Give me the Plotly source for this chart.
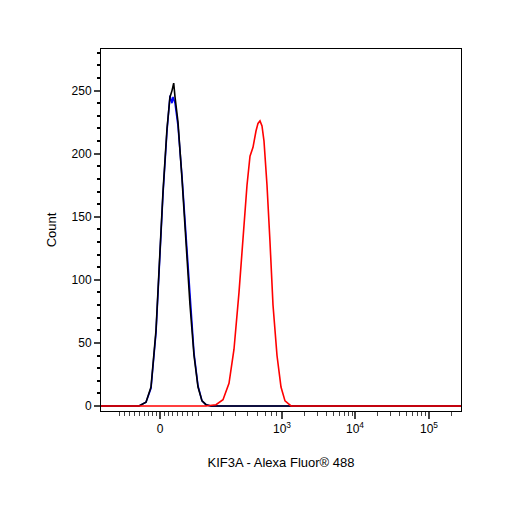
import plotly.graph_objects as go

# x in display (biexponential) units; tick positions below
black_x = [100, 138, 145, 150, 155, 158, 162, 166, 169, 171, 172.7, 174, 177, 181, 185, 189, 193, 197, 201, 205, 210, 460]
black_y = [0, 0, 3, 15, 60, 110, 170, 220, 245, 250, 256, 245, 225, 180, 130, 80, 40, 15, 4, 1, 0, 0]
blue_x = [100, 138, 145, 150, 155, 158, 162, 166, 169, 171, 172, 174, 177, 181, 185, 189, 193, 197, 201, 205, 210, 460]
blue_y = [0, 0, 3, 14, 58, 108, 168, 218, 246, 240, 245, 240, 222, 182, 133, 82, 42, 16, 4, 1, 0, 0]
red_x = [100, 205, 215, 222, 228, 233, 238, 242, 246, 249, 252, 255, 257, 259, 261, 263, 266, 269, 272, 276, 280, 284, 290, 460]
red_y = [0, 0, 1, 5, 18, 45, 90, 135, 175, 198, 205, 218, 224, 226, 222, 210, 175, 130, 80, 40, 15, 4, 0, 0]

major_vals = [159, 281, 354, 428]
major_text = ["0", "10<sup>3</sup>", "10<sup>4</sup>", "10<sup>5</sup>"]
minor_vals = [118, 123, 128, 133, 138, 143, 147, 151, 155, 163, 167, 171, 176, 181, 186, 191, 197,
              210, 222, 234, 246, 256, 264, 270, 275, 303, 316, 325, 332, 338, 343, 347, 351,
              376, 389, 398, 405, 411, 416, 420, 424, 450]

fig = go.Figure()
for x, y, c in [(blue_x, blue_y, "blue"), (black_x, black_y, "black"), (red_x, red_y, "red")]:
    fig.add_trace(go.Scatter(x=x, y=y, mode="lines", line=dict(color=c, width=1.6), showlegend=False))
fig.add_trace(go.Scatter(x=[100], y=[0], xaxis="x2", mode="markers", marker=dict(opacity=0), showlegend=False))

fig.update_layout(
    width=506, height=506, paper_bgcolor="white", plot_bgcolor="white",
    margin=dict(l=93, r=53, t=41, b=103),
    font=dict(family="Liberation Sans, Arial", size=12, color="black"),
    xaxis=dict(range=[100, 460], tickvals=major_vals, ticktext=major_text, ticks="outside",
               ticklen=7, tickwidth=2, showgrid=False, zeroline=False, showline=True, linecolor="black",
               mirror=True, linewidth=1,
               title=dict(text="KIF3A - Alexa Fluor® 488", font=dict(size=13), standoff=22)),
    xaxis2=dict(range=[100, 460], overlaying="x", side="bottom", tickvals=minor_vals, showticklabels=False,
                ticks="outside", ticklen=4, tickwidth=1, showgrid=False, zeroline=False, showline=False),
    yaxis=dict(range=[-4, 283], tickvals=[0, 50, 100, 150, 200, 250], ticks="outside", ticklen=6, tickwidth=1.5,
               minor=dict(dtick=10, ticks="outside", ticklen=3, tickcolor="black"),
               showgrid=False, zeroline=False, showline=True, linecolor="black", mirror=True, linewidth=1,
               title=dict(text="Count", font=dict(size=13), standoff=12)),
)
fig.write_html("out.html")
